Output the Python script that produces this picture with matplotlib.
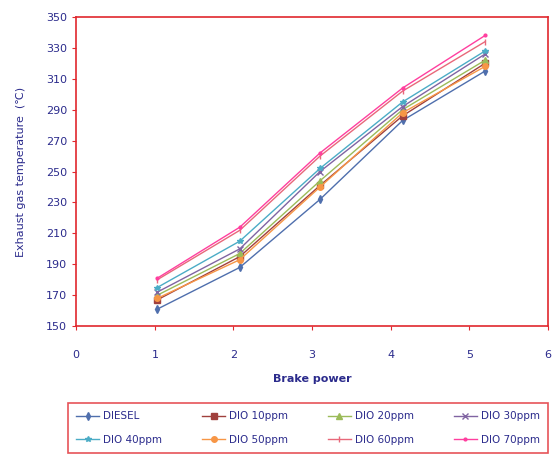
import matplotlib.pyplot as plt

# brake power positions (points sit slightly right of the integer ticks)
bp = [1.03, 2.08, 3.1, 4.15, 5.2]

diesel = [161, 188, 232, 283, 315]
dio10 = [167, 195, 241, 286, 320]
dio20 = [170, 197, 244, 290, 322]
dio30 = [172, 200, 250, 292, 326]
dio40 = [175, 205, 252, 295, 328]
dio50 = [168, 193, 240, 288, 318]
dio60 = [180, 212, 260, 302, 334]
dio70 = [181, 214, 262, 304, 338]

series = [diesel, dio10, dio20, dio30, dio40, dio50, dio60, dio70]
names = ["DIESEL", "DIO 10ppm", "DIO 20ppm", "DIO 30ppm",
         "DIO 40ppm", "DIO 50ppm", "DIO 60ppm", "DIO 70ppm"]
colors = ["#4F6FAD", "#A0403D", "#9BBB59", "#8064A2",
          "#4BACC6", "#F79646", "#E8687A", "#FF3F9F"]
markers = ["d", "s", "^", "x", "*", "o", "|", "."]

txt = "#2B2B8C"

fig = plt.figure(figsize=(5.52, 4.68), dpi=100)
ax = fig.add_axes([0.138, 0.303, 0.855, 0.661])

for y, n, c, m in zip(series, names, colors, markers):
    ax.plot(bp, y, color=c, marker=m, markersize=4, linewidth=1, label=n)

ax.set_xlim(0, 6)
ax.set_ylim(150, 350)
ax.set_xticks(range(0, 7))
ax.set_yticks(range(150, 351, 20))
for s in ax.spines.values():
    s.set_color("#E0282E")
    s.set_linewidth(1.2)
ax.tick_params(colors="#E0282E", labelcolor=txt, labelsize=8, length=3)
ax.tick_params(axis="x", pad=14)

ax.set_xlabel("Brake power", color=txt, fontsize=8, fontweight="bold", labelpad=10)
ax.set_ylabel("Exhaust gas temperature  (\u2103)", color=txt, fontsize=8, labelpad=14)

# legend fills row by row in the reference
h, l = ax.get_legend_handles_labels()
order = [0, 4, 1, 5, 2, 6, 3, 7]
leg = fig.legend([h[i] for i in order], [l[i] for i in order],
                 loc="upper left", bbox_to_anchor=(0.123, 0.0, 0.87, 0.139),
                 mode="expand", ncol=4, fontsize=7.5, frameon=True, fancybox=False,
                 handlelength=2.2, handletextpad=0.4, columnspacing=0.8,
                 borderaxespad=0.0, labelspacing=1.3, borderpad=0.8)
leg.get_frame().set_edgecolor("#E0282E")
leg.get_frame().set_linewidth(1.2)
for t in leg.get_texts():
    t.set_color(txt)

fig.savefig("out.png", dpi=100)
